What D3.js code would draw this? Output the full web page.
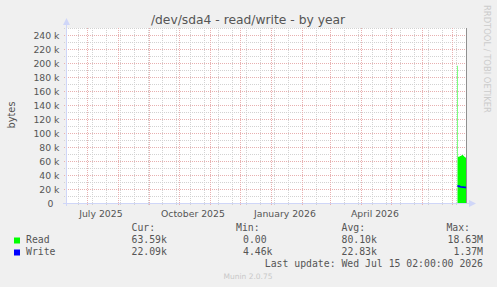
<!DOCTYPE html>
<html>
<head>
<meta charset="utf-8">
<script src="https://cdn.jsdelivr.net/npm/d3@7"></script>
<style>
  html, body { margin: 0; padding: 0; background: #F0F0F0; }
  svg { display: block; }
  text { font-family: "DejaVu Sans", sans-serif; fill: #555; }
  .mono { font-family: "DejaVu Sans Mono", monospace; }
</style>
</head>
<body>
<div id="chart"></div>
<script>
// time window of the year graph (400 days ending at last update)
var rangeStart = "2025-06-10T02:00:00";
var rangeEnd = "2026-07-15T02:00:00";
var firstMinorGrid = "2025-06-22T00:00:00";

// samples (start of each daily step); earlier days have no data
var sampleTimes = [
  "2026-07-06T14:00:00", "2026-07-07T02:00:00", "2026-07-08T02:00:00",
  "2026-07-09T02:00:00", "2026-07-10T02:00:00", "2026-07-11T02:00:00",
  "2026-07-12T02:00:00", "2026-07-13T02:00:00", "2026-07-14T02:00:00",
  "2026-07-15T02:00:00"
];
var readValues = [196000, 66000, 66500, 67000, 68000, 68500, 67500, 66000, 65000, 65000];
var writeValues = [24000, 24500, 23500, 23000, 22800, 22800, 22600, 22500, 22200, 22200];

var yTicks = [0, 20000, 40000, 60000, 80000, 100000, 120000, 140000, 160000,
  180000, 200000, 220000, 240000];
var xLabels = ["July 2025", "October 2025", "January 2026", "April 2026"];
var xLabelDates = ["2025-07-15", "2025-10-15", "2026-01-15", "2026-04-15"];

var legendNames = ["Read", "Write"];
var legendColors = ["#00FF00", "#0000FF"];
var legendCur = ["63.59k", "22.09k"];
var legendMin = ["0.00", "4.46k"];
var legendAvg = ["80.10k", "22.83k"];
var legendMax = ["18.63M", "1.37M"];

var W = 497, H = 287;
var plotL = 66, plotR = 466, plotT = 28, plotB = 203;

var svg = d3.select("#chart").append("svg")
  .attr("width", W).attr("height", H);

var parse = d3.isoParse;
var x = d3.scaleTime()
  .domain([parse(rangeStart), parse(rangeEnd)])
  .range([plotL, plotR]);
var y = d3.scaleLinear()
  .domain([0, 250000])
  .range([plotB, plotT]);

// canvas
svg.append("rect")
  .attr("x", plotL).attr("y", plotT)
  .attr("width", plotR - plotL).attr("height", plotB - plotT)
  .attr("fill", "#FFFFFF");

var grid = svg.append("g").attr("shape-rendering", "crispEdges");
var minorCol = "#d2d2d2", majorCol = "#e8b0b0";

// minor horizontal every 10k, major every 20k
var minorY = d3.range(10000, 250001, 10000);
grid.selectAll("line.hmin").data(minorY).enter().append("line")
  .attr("x1", plotL - 2).attr("x2", plotR)
  .attr("y1", function(d){ return Math.round(y(d)) + 0.5; })
  .attr("y2", function(d){ return Math.round(y(d)) + 0.5; })
  .attr("stroke", function(d){ return d % 20000 == 0 ? majorCol : minorCol; })
  .attr("stroke-dasharray", "1,1");

// vertical: two-weekly minor lines, monthly major lines
var minorX = d3.timeDay.range(parse(firstMinorGrid), parse(rangeEnd), 14);
var majorX = d3.timeMonth.range(parse(rangeStart), parse(rangeEnd));

grid.selectAll("line.vmin").data(minorX).enter().append("line")
  .attr("x1", function(d){ return Math.round(x(d)) + 0.5; })
  .attr("x2", function(d){ return Math.round(x(d)) + 0.5; })
  .attr("y1", plotT).attr("y2", plotB + 2)
  .attr("stroke", minorCol)
  .attr("stroke-dasharray", "1,1");

grid.selectAll("line.vmaj").data(majorX).enter().append("line")
  .attr("x1", function(d){ return Math.round(x(d)) + 0.5; })
  .attr("x2", function(d){ return Math.round(x(d)) + 0.5; })
  .attr("y1", plotT).attr("y2", plotB + 2)
  .attr("stroke", majorCol)
  .attr("stroke-dasharray", "1,1");

// data
var pts = sampleTimes.map(function(t, i){
  return {t: parse(t), r: readValues[i], w: writeValues[i]};
});
// the step of the last sample ends at the right edge
var stepPts = pts.slice(0, pts.length - 1);
stepPts.push({t: parse(rangeEnd), r: stepPts[stepPts.length - 1].r, w: stepPts[stepPts.length - 1].w});

var area = d3.area()
  .x(function(d){ return x(d.t); })
  .y0(y(0))
  .y1(function(d){ return y(d.r); })
  .curve(d3.curveStepAfter);

svg.append("path")
  .datum(stepPts)
  .attr("d", area)
  .attr("fill", legendColors[0]);

var line = d3.line()
  .x(function(d){ return x(d.t); })
  .y(function(d){ return y(d.w); })
  .curve(d3.curveStepAfter);

svg.append("path")
  .datum(stepPts)
  .attr("d", line)
  .attr("fill", "none")
  .attr("stroke", legendColors[1])
  .attr("stroke-width", 1.4);

// right border
svg.append("line")
  .attr("x1", plotR + 0.5).attr("x2", plotR + 0.5)
  .attr("y1", plotT).attr("y2", plotB)
  .attr("stroke", "#909090");

// axes
var axisCol = "#CFD6F8";
svg.append("line")
  .attr("x1", plotL + 0.5).attr("x2", plotL + 0.5)
  .attr("y1", plotB + 3).attr("y2", plotT - 4)
  .attr("stroke", axisCol);
svg.append("line")
  .attr("x1", plotL - 3).attr("x2", plotR + 4)
  .attr("y1", plotB + 0.5).attr("y2", plotB + 0.5)
  .attr("stroke", axisCol);
svg.append("path")
  .attr("d", "M" + (plotL - 3) + "," + (plotT - 3) + "L" + (plotL + 0.5) + "," + (plotT - 10) + "L" + (plotL + 4) + "," + (plotT - 3) + "Z")
  .attr("fill", axisCol);
svg.append("path")
  .attr("d", "M" + (plotR + 3) + "," + (plotB - 3) + "L" + (plotR + 10) + "," + (plotB + 0.5) + "L" + (plotR + 3) + "," + (plotB + 4) + "Z")
  .attr("fill", axisCol);

// y labels
svg.selectAll("text.ylab").data(yTicks).enter().append("text")
  .attr("x", function(d){ return d == 0 ? 53.5 : 59.5; })
  .attr("y", function(d){ return y(d) + 3.5; })
  .attr("text-anchor", "end")
  .attr("font-size", "9.3px")
  .text(function(d){ return d == 0 ? "0" : (d / 1000) + " k"; });

// x labels
svg.selectAll("text.xlab").data(xLabels).enter().append("text")
  .attr("x", function(d, i){ return x(parse(xLabelDates[i])); })
  .attr("y", 216.5)
  .attr("text-anchor", "middle")
  .attr("font-size", "9.3px")
  .text(function(d){ return d; });

// title
svg.append("text")
  .attr("x", 248).attr("y", 24)
  .attr("text-anchor", "middle")
  .attr("font-size", "12.3px")
  .text("/dev/sda4 - read/write - by year");

// vertical label
svg.append("text")
  .attr("transform", "translate(15,115) rotate(-90)")
  .attr("text-anchor", "middle")
  .attr("font-size", "9.8px")
  .text("bytes");

// watermark
svg.append("text")
  .attr("transform", "translate(484,5) rotate(90)")
  .attr("font-size", "8.4px")
  .style("fill", "#cccccc")
  .text("RRDTOOL / TOBI OETIKER");

// legend
var leg = svg.append("g").style("font-size", "9.8px");
var headers = [["Cur:", 131.5, "start"], ["Min:", 236, "start"], ["Avg:", 341.5, "start"], ["Max:", 470, "end"]];
headers.forEach(function(h){
  leg.append("text").attr("class", "mono")
    .attr("x", h[1]).attr("y", 231)
    .attr("text-anchor", h[2])
    .text(h[0]);
});

legendNames.forEach(function(n, i){
  var by = 243 + i * 12;
  leg.append("rect")
    .attr("x", 14).attr("y", by - 5.5)
    .attr("width", 6).attr("height", 6)
    .attr("fill", legendColors[i]);
  leg.append("text").attr("class", "mono").attr("x", 26).attr("y", by).text(n);
  leg.append("text").attr("class", "mono").attr("x", 131.5).attr("y", by).text(legendCur[i]);
  leg.append("text").attr("class", "mono").attr("x", 243).attr("y", by).text(legendMin[i]);
  leg.append("text").attr("class", "mono").attr("x", 341.5).attr("y", by).text(legendAvg[i]);
  leg.append("text").attr("class", "mono").attr("x", 483).attr("y", by)
    .attr("text-anchor", "end").text(legendMax[i]);
});

leg.append("text").attr("class", "mono")
  .attr("x", 483).attr("y", 267)
  .attr("text-anchor", "end")
  .text("Last update: Wed Jul 15 02:00:00 2026");

svg.append("text")
  .attr("x", 248).attr("y", 279)
  .attr("text-anchor", "middle")
  .attr("font-size", "7.5px")
  .style("fill", "#c8c8c8")
  .text("Munin 2.0.75");
</script>
</body>
</html>
